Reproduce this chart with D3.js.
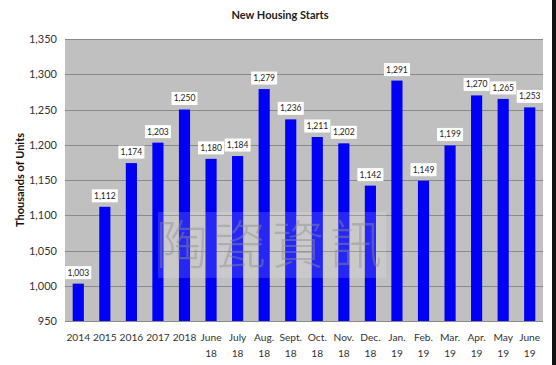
<!DOCTYPE html>
<html>
<head>
<meta charset="utf-8">
<script src="https://cdnjs.cloudflare.com/ajax/libs/d3/7.8.5/d3.min.js"></script>
<style>
  html, body { margin: 0; padding: 0; background: #fff; }
</style>
</head>
<body>
<div id="chart"></div>
<script>
// Data
var categories = ['2014', '2015', '2016', '2017', '2018', 'June|18', 'July|18', 'Aug.|18', 'Sept.|18',
	'Oct.|18', 'Nov.|18', 'Dec.|18', 'Jan.|19', 'Feb.|19', 'Mar.|19', 'Apr.|19', 'May|19', 'June|19'];
var starts = [1003, 1112, 1174, 1203, 1250, 1180, 1184, 1279, 1236, 1211, 1202, 1142, 1291, 1149, 1199, 1270, 1265, 1253];
var yTicks = [950, 1000, 1050, 1100, 1150, 1200, 1250, 1300, 1350];

function Chart() {
	// Exposed variables
	var attrs = {
		svgWidth: 556,
		svgHeight: 365,
		marginTop: 39,
		marginBottom: 44,
		marginRight: 13,
		marginLeft: 65,
		container: 'body',
		defaultTextFill: '#333',
		defaultFont: 'Lato, "Open Sans", sans-serif',
		plotFill: '#c0c0c0',
		gridColor: '#8a8a8a',
		barColor: '#0000f5'
	};

	var main = function() {
		var container = d3.select(attrs.container);

		//Calculated properties
		var calc = {};
		calc.chartWidth = attrs.svgWidth - attrs.marginRight - attrs.marginLeft;
		calc.chartHeight = attrs.svgHeight - attrs.marginBottom - attrs.marginTop;

		var svg = container.append('svg')
			.attr('width', attrs.svgWidth)
			.attr('height', attrs.svgHeight)
			.attr('font-family', attrs.defaultFont);

		// dark strip on the right edge of the picture
		svg.append('rect')
			.attr('x', attrs.svgWidth - 4)
			.attr('y', 0)
			.attr('width', 4)
			.attr('height', attrs.svgHeight)
			.attr('fill', '#111');

		// Title
		svg.append('text')
			.attr('x', 280)
			.attr('y', 19)
			.attr('text-anchor', 'middle')
			.attr('font-size', 11)
			.attr('font-weight', 'bold')
			.attr('fill', '#222')
			.text('New Housing Starts');

		var chart = svg.append('g')
			.attr('transform', 'translate(' + attrs.marginLeft + ',' + attrs.marginTop + ')');

		//Scales
		var x = d3.scaleBand()
			.domain(categories)
			.range([0, calc.chartWidth])
			.paddingInner(0.58)
			.paddingOuter(0.29);

		var y = d3.scaleLinear()
			.domain([950, 1350])
			.range([calc.chartHeight, 0]);

		// Plot background
		chart.append('rect')
			.attr('width', calc.chartWidth)
			.attr('height', calc.chartHeight)
			.attr('fill', attrs.plotFill);

		// Gridlines
		chart.append('g')
			.selectAll('line')
			.data(yTicks)
			.join('line')
			.attr('x1', 0)
			.attr('x2', calc.chartWidth)
			.attr('y1', (d) => Math.round(y(d)) + 0.5)
			.attr('y2', (d) => Math.round(y(d)) + 0.5)
			.attr('stroke', attrs.gridColor)
			.attr('stroke-width', 1);

		// Y axis
		var yAxis = chart.append('g')
			.call(d3.axisLeft(y).tickValues(yTicks).tickSize(0).tickPadding(8).tickFormat(d3.format(',')));
		yAxis.select('.domain').remove();
		yAxis.selectAll('text')
			.attr('font-size', 11)
			.attr('font-family', attrs.defaultFont)
			.attr('fill', attrs.defaultTextFill);

		// Y axis title
		svg.append('text')
			.attr('transform', 'translate(24,' + 180 + ') rotate(-90)')
			.attr('text-anchor', 'middle')
			.attr('font-size', 11)
			.attr('font-weight', 'bold')
			.attr('fill', '#111')
			.text('Thousands  of Units');

		// X axis
		var xAxis = chart.append('g')
			.attr('transform', 'translate(0,' + calc.chartHeight + ')')
			.call(d3.axisBottom(x).tickSize(0).tickPadding(0).tickFormat(''));
		xAxis.select('.domain').remove();
		xAxis.selectAll('.tick').each(function(d) {
			var parts = d.split('|');
			var t = d3.select(this).append('text')
				.attr('text-anchor', 'middle')
				.attr('font-size', 10.2)
				.attr('font-family', attrs.defaultFont)
				.attr('fill', attrs.defaultTextFill);
			parts.forEach(function(p, i) {
				t.append('tspan').attr('x', 0).attr('y', 20 + i * 16).text(p);
			});
		});

		// Bars
		chart.append('g')
			.selectAll('rect')
			.data(starts)
			.join('rect')
			.attr('x', (d, i) => x(categories[i]))
			.attr('y', (d) => y(d))
			.attr('width', x.bandwidth())
			.attr('height', (d) => calc.chartHeight - y(d))
			.attr('fill', attrs.barColor);

		// Watermark
		var wm = chart.append('g').attr('transform', 'translate(' + (158 - attrs.marginLeft) + ',' + (212 - attrs.marginTop) + ')');
		wm.append('rect')
			.attr('width', 228)
			.attr('height', 66)
			.attr('fill', '#fff')
			.attr('opacity', 0.15);
		wm.append('text')
			.attr('x', 114)
			.attr('y', 52)
			.attr('text-anchor', 'middle')
			.attr('font-family', '"Noto Sans CJK TC"')
			.attr('font-size', 52)
			.attr('font-weight', 300)
			.attr('letter-spacing', 6)
			.attr('fill', '#8f8f8f')
			.attr('opacity', 0.45)
			.text('陶瓷資訊');

		// Data labels
		var labels = chart.append('g')
			.selectAll('g')
			.data(starts)
			.join('g')
			.attr('transform', (d, i) => 'translate(' + (x(categories[i]) + x.bandwidth() / 2) + ',' + (y(d) - 11) + ')');
		labels.append('rect')
			.attr('x', -13)
			.attr('y', -6.5)
			.attr('width', 26)
			.attr('height', 13)
			.attr('fill', '#fff');
		labels.append('text')
			.attr('text-anchor', 'middle')
			.attr('dy', '0.35em')
			.attr('font-size', 8.5)
			.attr('fill', '#222')
			.text((d) => d3.format(',')(d));
	};

	main.container = function(_) {
		attrs.container = _;
		return main;
	};

	main.render = function() {
		main();
		return main;
	};

	return main;
}

Chart().container('#chart').render();
</script>
</body>
</html>
